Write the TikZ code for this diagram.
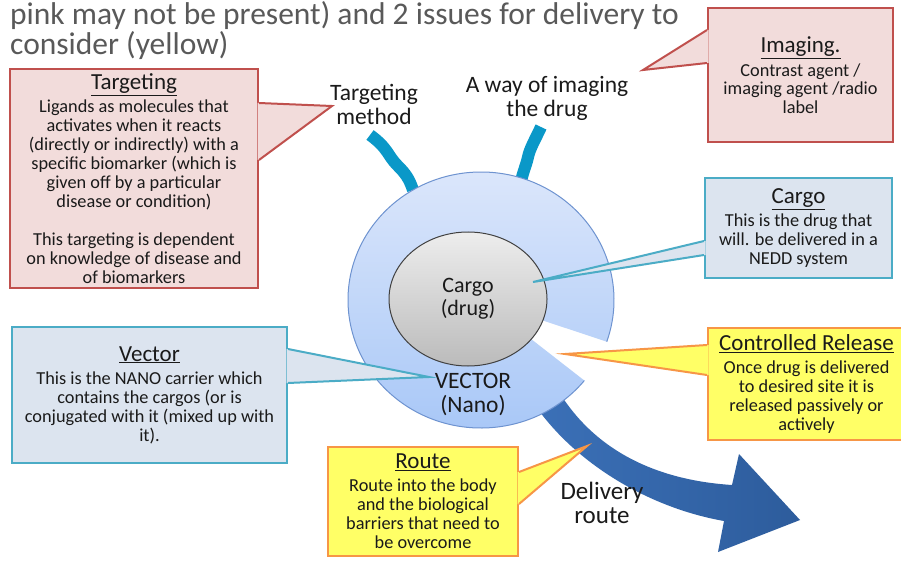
\documentclass[tikz,border=0pt]{standalone}
\usepackage{fontspec}
\setmainfont{Carlito}
\usetikzlibrary{calc,shapes.geometric}
\definecolor{pinkfill}{HTML}{F2DCDB}
\definecolor{pinkdraw}{HTML}{C0504D}
\definecolor{bluefill}{HTML}{DCE4EF}
\definecolor{bluedraw}{HTML}{4BACC6}
\definecolor{yelfill}{HTML}{FFFF66}
\definecolor{yeldraw}{HTML}{F79646}
\definecolor{antenna}{HTML}{0A98C8}
\definecolor{titlegray}{HTML}{595959}
\definecolor{textdark}{HTML}{1A1A1A}
\definecolor{outtop}{HTML}{DEE8FB}
\definecolor{outbot}{HTML}{A6C6F7}
\definecolor{outdraw}{HTML}{6E93D0}
\definecolor{intop}{HTML}{EDEDED}
\definecolor{inbot}{HTML}{BBBBBB}
\definecolor{arrowA}{HTML}{3B70B7}
\definecolor{arrowB}{HTML}{2D5C9C}
\newcommand{\hd}[1]{{\fontsize{23}{24}\selectfont\underline{#1}}\\[4pt]}
\newcommand{\callptr}[6]{%
  \fill[#4] ($(#1)+(#6,0)$) -- (#1) -- (#2) -- (#3) -- ($(#3)+(#6,0)$) -- cycle;
  \draw[#5, line width=2pt, line join=miter] (#1) -- (#2) -- (#3);
}
\tikzset{
  callout/.style={draw, line width=2pt, inner sep=0pt, align=center,
    font=\fontsize{18.3}{19}\selectfont, text=textdark},
  pinkbox/.style={callout, fill=pinkfill, draw=pinkdraw},
  bluebox/.style={callout, fill=bluefill, draw=bluedraw},
  yelbox/.style={callout, fill=yelfill, draw=yeldraw},
  biglabel/.style={align=center, font=\fontsize{23.5}{24}\selectfont, text=textdark, inner sep=0pt},
  titletext/.style={anchor=base west, inner sep=0pt, font=\fontsize{31.5}{33}\selectfont, text=titlegray},
  antennastroke/.style={draw=antenna, line width=12pt, line cap=butt}
}
\begin{document}
\begin{tikzpicture}[x=1pt,y=-1pt]
\useasboundingbox (0,0) rectangle (901,561);
\fill[white] (0,0) rectangle (901,561);

% title
\node[titletext] (title1) at (10,25) {pink may not be present) and 2 issues for delivery to};
\node[titletext] (title2) at (10,55) {consider (yellow)};

% antennae
\draw[antennastroke] (370,135) .. controls (388,148) and (388,156) .. (397,165)
  .. controls (405,173) and (409,178) .. (413,190);
\draw[antennastroke] (541,127) .. controls (535,140) and (530,148) .. (528,157)
  .. controls (526,167) and (521,175) .. (520,190);

% delivery arrow
\shade[left color=arrowA, right color=arrowB]
  (559,392) .. controls (595,450) and (655,480) .. (732,485)
  -- (739,454) -- (800,520) -- (718,552) -- (724,521)
  .. controls (650,508) and (578,465) .. (537,408) -- cycle;

% outer circle (vector) with notch
\coordinate (oc) at (481,300);
\shade[top color=outtop, bottom color=outbot]
  (oc) -- ($(oc)+(39:133 and 128)$)
  arc[start angle=39, end angle=379, x radius=133, y radius=128] -- cycle;
\draw[outdraw, line width=1pt] ($(oc)+(39:133 and 128)$)
  arc[start angle=39, end angle=379, x radius=133, y radius=128];

% inner circle (cargo)
\node[ellipse, draw=black!75, line width=1pt, top color=intop, bottom color=inbot,
  minimum width=158, minimum height=134, inner sep=0pt, align=center,
  font=\fontsize{22}{23}\selectfont, text=textdark] (cargo) at (468,299) {Cargo\\(drug)};
\node[biglabel] (vector) at (473,395) {VECTOR\\(Nano)};

% outside labels
\node[biglabel] (tm) at (374,104) {Targeting\\method};
\node[biglabel] (imgl) at (547,98) {A way of imaging\\the drug};
\node[biglabel, font=\fontsize{25}{24}\selectfont] (del) at (602,503) {Delivery\\route};

% callout boxes
\node[pinkbox, minimum width=248, minimum height=219] (tg) at (134,178.5)
  {\hd{Targeting}
   Ligands as molecules that\\
   activates when it reacts\\
   (directly or indirectly) with a\\
   specific biomarker (which is\\
   given off by a particular\\
   disease or condition)\\[19pt]
   This targeting is dependent\\
   on knowledge of disease and\\
   of biomarkers};
\node[pinkbox, minimum width=185, minimum height=134, font=\fontsize{18.3}{18.5}\selectfont] (im) at (800.5,75)
  {\hd{Imaging.}Contrast agent /\\imaging agent /radio\\label};
\node[bluebox, minimum width=187, minimum height=100] (cg) at (798.5,228)
  {\hd{Cargo}This is the drug that\\will. be delivered in a\\NEDD system};
\node[bluebox, minimum width=275, minimum height=136] (vc) at (149.5,395)
  {\hd{Vector}This is the NANO carrier which\\contains the cargos (or is\\conjugated with it (mixed up with\\it).};
\node[yelbox, minimum width=197, minimum height=112] (cr) at (806.5,384)
  {\hd{Controlled Release}Once drug is delivered\\to desired site it is\\released passively or\\actively};
\node[yelbox, minimum width=190, minimum height=109] (rt) at (423,501.5)
  {\hd{Route}Route into the body\\and the biological\\barriers that need to\\be overcome};

% pointer tips
\coordinate (tgtip) at (332,106);
\coordinate (imtip) at (643,70);
\coordinate (cgtip) at (533,282);
\coordinate (vctip) at (429,377);
\coordinate (crtip) at (565,354);
\coordinate (rttip) at (587,446);

\coordinate (tgA) at (tg.east |- 0,103);
\coordinate (tgB) at (tg.east |- 0,160);
\coordinate (imA) at (im.west |- 0,30);
\coordinate (imB) at (im.west |- 0,63);
\coordinate (cgA) at (cg.west |- 0,241);
\coordinate (cgB) at (cg.west |- 0,255);
\coordinate (vcA) at (vc.east |- 0,349);
\coordinate (vcB) at (vc.east |- 0,383);
\coordinate (crA) at (cr.west |- 0,345);
\coordinate (crB) at (cr.west |- 0,375);
\coordinate (rtA) at (rt.east |- 0,472);
\coordinate (rtB) at (rt.east |- 0,504);

\callptr{tgA}{tgtip}{tgB}{pinkfill}{pinkdraw}{-1.5}
\callptr{imA}{imtip}{imB}{pinkfill}{pinkdraw}{1.5}
\callptr{cgA}{cgtip}{cgB}{bluefill}{bluedraw}{1.5}
\callptr{vcA}{vctip}{vcB}{bluefill}{bluedraw}{-1.5}
\callptr{crA}{crtip}{crB}{yelfill}{yeldraw}{1.5}
\callptr{rtA}{rttip}{rtB}{yelfill}{yeldraw}{-1.5}
\end{tikzpicture}
\end{document}
